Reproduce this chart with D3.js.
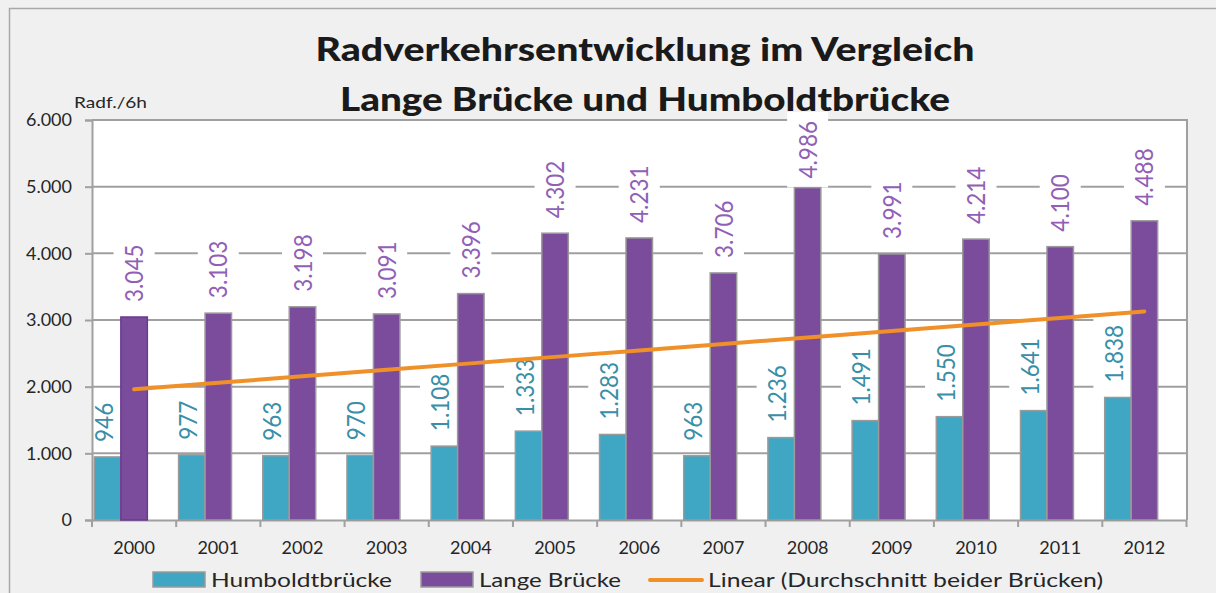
<!DOCTYPE html>
<html><head><meta charset="utf-8">
<script src="https://cdn.jsdelivr.net/npm/d3@7"></script>
<style>
html,body{margin:0;padding:0;background:#f0f0f0;}
svg{display:block;font-family:Lato,"Noto Sans",sans-serif;}
</style></head>
<body>
<svg id="chart" width="1216" height="593"></svg>
<script>
// ---- data ----
const years = ["2000","2001","2002","2003","2004","2005","2006","2007","2008","2009","2010","2011","2012"];
const humboldt = [946,977,963,970,1108,1333,1283,963,1236,1491,1550,1641,1838];
const lange = [3045,3103,3198,3091,3396,4302,4231,3706,4986,3991,4214,4100,4488];
const yTicks = [0,1000,2000,3000,4000,5000,6000];
const titleLines = ["Radverkehrsentwicklung im Vergleich","Lange Brücke und Humboldtbrücke"];
const yAxisTitle = "Radf./6h";
const legendLabels = ["Humboldtbrücke","Lange Brücke","Linear (Durchschnitt beider Brücken)"];

// ---- setup ----
const W = 1216, H = 593;
const svg = d3.select("#chart");
const de = d3.formatLocale({decimal:",", thousands:".", grouping:[3], currency:["","€"]});
const fmt = de.format(",");

const plot = {left:92, right:1187, top:120, bottom:520};
const y = d3.scaleLinear().domain([0,6000]).range([plot.bottom, plot.top]);
const x = d3.scaleBand().domain(years).range([plot.left, plot.right-0.5]).paddingInner(0).paddingOuter(0);
const series = ["h","l","avg"];
const xi = d3.scaleBand().domain(series).range([0, x.bandwidth()]).paddingInner(0).paddingOuter(0.09);

const COL_H = "#3fa6c3", COL_L = "#7b4c9c", COL_HT = "#3a8fa8", COL_LT = "#915fb6";
const GRID = "#a0a0a0", TXT = "#262626", ORANGE = "#ef9029";

// outer background + border
svg.append("rect").attr("x",0).attr("y",0).attr("width",W).attr("height",H).attr("fill","#f0f0f0");
svg.append("path").attr("d",`M9.5,${H+5}V8.5H${W+5}`).attr("fill","none").attr("stroke","#a8a8a8").attr("stroke-width",1.5);

// plot area
svg.append("rect").attr("x",plot.left).attr("y",plot.top).attr("width",plot.right-plot.left).attr("height",plot.bottom-plot.top).attr("fill","#fff");

// gridlines
svg.append("g").selectAll("line").data(yTicks.filter(d=>d>0)).join("line")
  .attr("x1",plot.left).attr("x2",plot.right).attr("y1",d=>y(d)).attr("y2",d=>y(d))
  .attr("stroke",GRID).attr("stroke-width",2);
// right border
svg.append("line").attr("x1",plot.right).attr("x2",plot.right).attr("y1",plot.top-1).attr("y2",plot.bottom)
  .attr("stroke",GRID).attr("stroke-width",2);

// layers: label boxes under bars, label text above bars, trend on top
const gBoxes = svg.append("g");

// y axis
const yAxis = svg.append("g").attr("transform",`translate(${plot.left},0)`)
  .call(d3.axisLeft(y).tickValues(yTicks).tickFormat(fmt).tickSize(7).tickPadding(13));
yAxis.select(".domain").attr("stroke",GRID).attr("stroke-width",2);
yAxis.selectAll(".tick line").attr("stroke",GRID).attr("stroke-width",2);
yAxis.selectAll(".tick text").attr("fill",TXT).style("font-size","18px").style("font-family","Lato");

// x axis
const xAxis = svg.append("g").attr("transform",`translate(0,${plot.bottom})`)
  .call(d3.axisBottom(x).tickSize(0).tickPadding(21));
xAxis.select(".domain").attr("stroke",GRID).attr("stroke-width",2);
xAxis.selectAll(".tick text").attr("fill",TXT).style("font-size","18px").style("font-family","Lato");
const bounds = years.map(d=>x(d)).concat([x(years[years.length-1])+x.bandwidth()]);
svg.append("g").selectAll("line").data(bounds).join("line")
  .attr("x1",d=>d).attr("x2",d=>d).attr("y1",plot.bottom).attr("y2",plot.bottom+7)
  .attr("stroke",GRID).attr("stroke-width",2);

const gBars = svg.append("g");
const gLabels = svg.append("g");

gBars.selectAll("rect.h").data(years).join("rect").attr("class","h")
  .attr("x",(d)=>x(d)+xi("h")).attr("width",xi.bandwidth())
  .attr("y",(d,i)=>y(humboldt[i])).attr("height",(d,i)=>y(0)-y(humboldt[i]))
  .attr("fill",COL_H).attr("stroke","#9a9a9a").attr("stroke-width",1.5);
gBars.selectAll("rect.l").data(years).join("rect").attr("class","l")
  .attr("x",(d)=>x(d)+xi("l")).attr("width",xi.bandwidth())
  .attr("y",(d,i)=>y(lange[i])).attr("height",(d,i)=>y(0)-y(lange[i]))
  .attr("fill",COL_L).attr("stroke",(d,i)=>i===0?"#6a3a90":"#9a9a9a").attr("stroke-width",1.5);

function addLabels(values, key, color, shift){
  values.forEach((v,i)=>{
    const cx = x(years[i]) + xi(key) + xi.bandwidth()/2 + shift;
    const barTop = y(v);
    const t = gLabels.append("text").text(fmt(v)).attr("fill",color)
      .style("font-size","22.5px").style("font-family","Lato")
      .attr("text-anchor","start");
    const len = t.node().getComputedTextLength();
    let end = barTop - 15;
    if (end - len < plot.top + 1) end = plot.top + 1 + len;
    t.attr("transform",`translate(${cx},${end}) scale(1.12,1) rotate(-90)`).attr("dy","0.36em");
    const bx = Math.max(cx-20.5, plot.left+1);
    gBoxes.append("rect").attr("fill","#fff")
      .attr("x",bx).attr("width",cx+20.5-bx).attr("y",end-len-9).attr("height",len+18);
  });
}
addLabels(humboldt,"h",COL_HT,-4);
addLabels(lange,"l",COL_LT,0);

// linear trend of the average of both bridges
const avg = humboldt.map((h,i)=>(h+lange[i])/2);
const n = avg.length, mx = (n-1)/2, my = d3.mean(avg);
const slope = d3.sum(avg,(v,i)=>(i-mx)*(v-my)) / d3.sum(avg,(v,i)=>(i-mx)*(i-mx));
const icpt = my - slope*mx;
const trend = years.map((d,i)=>({x:x(d)+x.bandwidth()/2, v:icpt+slope*i}));
svg.append("path").datum(trend)
  .attr("d",d3.line().x(d=>d.x).y(d=>y(d.v)))
  .attr("fill","none").attr("stroke",ORANGE).attr("stroke-width",4).attr("stroke-linecap","round");

// y axis title
svg.append("text").attr("x",74).attr("y",108).text(yAxisTitle).attr("fill",TXT)
  .style("font-size","16px").attr("textLength",73).attr("lengthAdjust","spacingAndGlyphs");

// title
const titleW = [659, 610], titleY = [61, 111];
titleLines.forEach((s,i)=>{
  svg.append("text").attr("x",645).attr("y",titleY[i]).attr("text-anchor","middle")
    .text(s).attr("fill","#1a1a1a").style("font-size","31.5px").style("font-weight","900")
    .attr("textLength",titleW[i]).attr("lengthAdjust","spacingAndGlyphs");
});

// legend
const lg = svg.append("g");
const legX = [153, 421, 648], legTextX = [211, 479, 708], legTextW = [181, 142, 395];
lg.append("rect").attr("x",legX[0]).attr("y",572).attr("width",52).attr("height",15)
  .attr("fill",COL_H).attr("stroke","#9a9a9a").attr("stroke-width",1.5);
lg.append("rect").attr("x",legX[1]).attr("y",572).attr("width",52).attr("height",15)
  .attr("fill",COL_L).attr("stroke","#9a9a9a").attr("stroke-width",1.5);
lg.append("line").attr("x1",legX[2]+2).attr("x2",legX[2]+54).attr("y1",580).attr("y2",580)
  .attr("stroke",ORANGE).attr("stroke-width",4).attr("stroke-linecap","round");
legendLabels.forEach((s,i)=>{
  lg.append("text").attr("x",legTextX[i]).attr("y",587).text(s).attr("fill",TXT)
    .style("font-size","19.5px").attr("textLength",legTextW[i]).attr("lengthAdjust","spacingAndGlyphs");
});
</script>
</body></html>
